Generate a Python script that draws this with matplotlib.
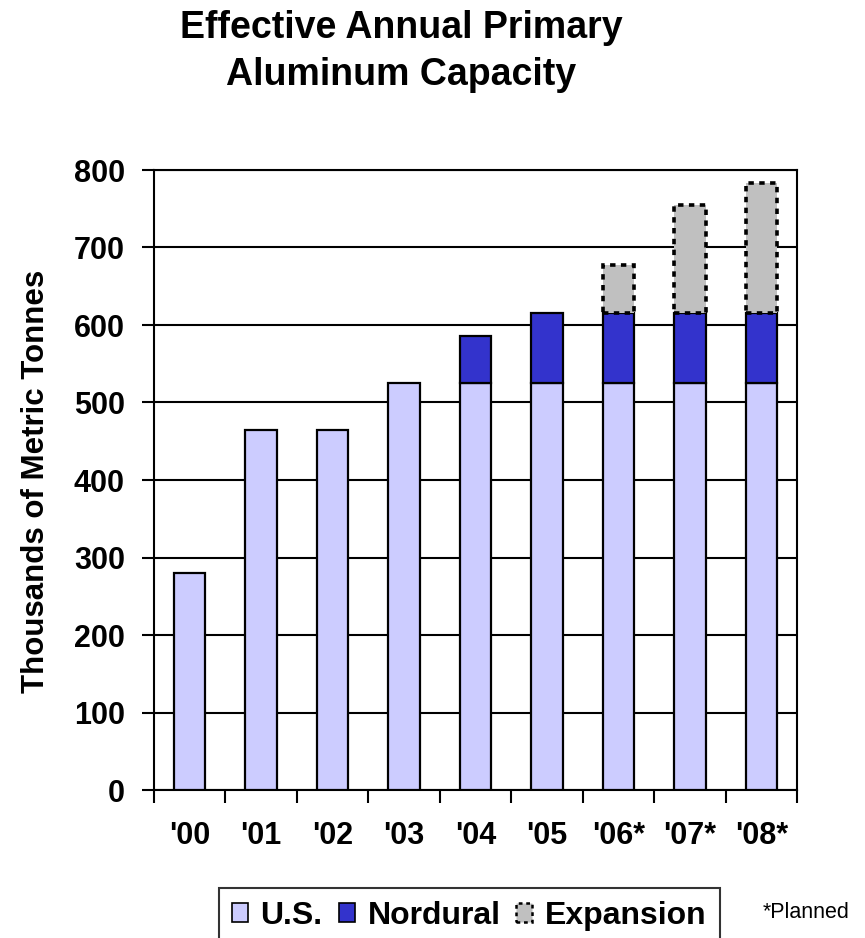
import matplotlib
matplotlib.use("Agg")
import matplotlib.pyplot as plt
import numpy as np
from matplotlib.patches import Rectangle

plt.rcParams['font.family'] = ['Liberation Sans', 'DejaVu Sans']
plt.rcParams['font.weight'] = 'bold'

years = ["'00", "'01", "'02", "'03", "'04", "'05", "'06*", "'07*", "'08*"]
us = [280, 465, 465, 525, 525, 525, 525, 525, 525]
nordural = [0, 0, 0, 0, 61, 90, 90, 90, 90]
expansion = [0, 0, 0, 0, 0, 0, 62, 140, 168]

c_us = '#ccccff'
c_nord = '#3333cc'
c_exp = '#c0c0c0'
dash = (0, (1.5, 1.5))

fig = plt.figure(figsize=(8.65, 9.38), dpi=100)
ax = fig.add_axes([154 / 865, 1 - 790 / 938, (797 - 154) / 865, (790 - 170) / 938])

x = np.arange(len(years))
w = 0.44


def stacked(values, base, **kw):
    values = np.asarray(values, dtype=float)
    base = np.asarray(base, dtype=float)
    keep = values > 0
    ax.bar(x[keep], values[keep], width=w, bottom=base[keep], zorder=3, **kw)


zeros = np.zeros(len(years))
stacked(us, zeros, color=c_us, edgecolor='black', linewidth=1.6)
stacked(nordural, us, color=c_nord, edgecolor='black', linewidth=1.6)
stacked(expansion, np.array(us) + np.array(nordural), color=c_exp,
        edgecolor='black', linewidth=2.6, linestyle=dash)

ax.set_xlim(-0.5, len(years) - 0.5)
ax.set_ylim(0, 800)
ax.set_yticks(range(0, 801, 100))
ax.yaxis.grid(True, color='black', linewidth=1.5, zorder=0)
ax.set_axisbelow(True)
for s in ax.spines.values():
    s.set_linewidth(1.5)

ax.set_xticks(x)
ax.set_xticklabels(years, fontsize=22, fontweight='bold')
ax.set_xticks(np.arange(-0.5, len(years)), minor=True)
ax.tick_params(axis='x', which='major', length=0, pad=22)
ax.tick_params(axis='x', which='minor', length=9, width=1.5, direction='out')
ax.tick_params(axis='y', length=9, width=1.5, direction='out', labelsize=22, pad=12)
for lab in ax.get_yticklabels():
    lab.set_fontweight('bold')

ax.set_ylabel('Thousands of Metric Tonnes', fontsize=22.5, fontweight='bold')
ax.yaxis.set_label_coords((51 - 154) / 643, 0.497)

fig.text(401 / 865, 1 - 38 / 938, 'Effective Annual Primary',
         ha='center', va='baseline', fontsize=27, fontweight='bold')
fig.text(401 / 865, 1 - 85 / 938, 'Aluminum Capacity',
         ha='center', va='baseline', fontsize=27, fontweight='bold')

handles = [
    Rectangle((0, 0), 1, 1, facecolor=c_us, edgecolor='black', linewidth=1.2),
    Rectangle((0, 0), 1, 1, facecolor=c_nord, edgecolor='black', linewidth=1.2),
    Rectangle((0, 0), 1, 1, facecolor=c_exp, edgecolor='black', linewidth=1.8,
              linestyle=dash),
]
leg = fig.legend(handles, ['U.S.', 'Nordural', 'Expansion'], loc='upper left',
                 bbox_to_anchor=(219 / 865, 1 - 888 / 938), ncol=3,
                 prop={'size': 23, 'weight': 'bold'}, frameon=True, fancybox=False,
                 edgecolor='black', handlelength=0.5, handleheight=0.5,
                 handletextpad=0.4, columnspacing=0.5, borderpad=0.4,
                 borderaxespad=0)
leg.get_frame().set_linewidth(1.5)

fig.text(763 / 865, 1 - 912 / 938, '*Planned', ha='left', va='center', fontsize=15.5,
         fontweight='normal')

fig.savefig('out.png', dpi=100)
